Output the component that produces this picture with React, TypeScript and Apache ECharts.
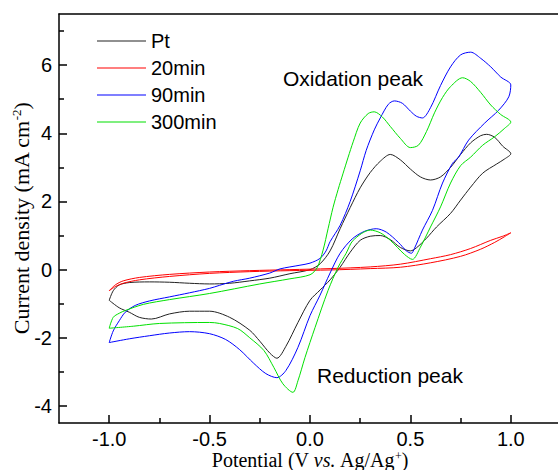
import React, { useEffect, useRef } from "react";
import * as echarts from "echarts";

// ---- data ----
const seriesNames = ["Pt", "20min", "90min", "300min"];

// Potential (V) , current density (mA cm-2) pairs, closed CV loops
const ptLoop: [number, number][] = [
  [-1.0, -0.9], [-0.98, -0.62], [-0.95, -0.45], [-0.9, -0.38], [-0.8, -0.36], [-0.7, -0.37],
  [-0.6, -0.4], [-0.5, -0.42], [-0.4, -0.4], [-0.3, -0.33], [-0.2, -0.25], [-0.1, -0.12],
  [0.0, 0.0], [0.05, 0.17], [0.1, 0.55], [0.15, 1.2], [0.2, 1.82], [0.25, 2.4], [0.3, 2.85],
  [0.35, 3.18], [0.4, 3.38], [0.45, 3.22], [0.5, 2.95], [0.55, 2.72], [0.6, 2.63], [0.65, 2.72],
  [0.7, 3.0], [0.75, 3.38], [0.8, 3.72], [0.85, 3.93], [0.88, 3.97], [0.92, 3.88], [0.96, 3.62],
  [1.0, 3.4], [0.97, 3.25], [0.93, 3.1], [0.86, 2.83], [0.8, 2.42], [0.75, 2.04], [0.7, 1.65],
  [0.63, 1.25], [0.58, 0.92], [0.53, 0.64], [0.5, 0.55], [0.45, 0.65], [0.4, 0.88], [0.35, 1.0],
  [0.3, 0.98], [0.25, 0.86], [0.2, 0.51], [0.15, 0.07], [0.1, -0.3], [0.05, -0.6], [0.0, -0.9],
  [-0.06, -1.55], [-0.12, -2.25], [-0.165, -2.6], [-0.2, -2.45], [-0.25, -2.1], [-0.3, -1.78],
  [-0.4, -1.4], [-0.5, -1.22], [-0.6, -1.22], [-0.7, -1.3], [-0.79, -1.45], [-0.85, -1.4],
  [-0.9, -1.25], [-0.95, -1.12], [-1.0, -0.9],
];

const min20Loop: [number, number][] = [
  [-1.0, -0.62], [-0.97, -0.5], [-0.93, -0.4], [-0.85, -0.3], [-0.7, -0.2], [-0.5, -0.11],
  [-0.3, -0.06], [-0.1, -0.03], [0.1, -0.01], [0.3, 0.03], [0.45, 0.07], [0.6, 0.2],
  [0.75, 0.39], [0.85, 0.6], [0.92, 0.8], [0.97, 0.97], [1.0, 1.08], [0.96, 0.98], [0.9, 0.86],
  [0.8, 0.62], [0.7, 0.44], [0.6, 0.32], [0.45, 0.16], [0.3, 0.08], [0.1, 0.03], [-0.1, 0.0],
  [-0.3, -0.03], [-0.5, -0.07], [-0.7, -0.14], [-0.85, -0.23], [-0.93, -0.33], [-0.97, -0.45],
  [-1.0, -0.62],
];

const min90Loop: [number, number][] = [
  [-1.0, -2.14], [-0.98, -1.8], [-0.95, -1.5], [-0.92, -1.25], [-0.87, -1.05], [-0.8, -0.92],
  [-0.7, -0.8], [-0.6, -0.68], [-0.5, -0.55], [-0.45, -0.46], [-0.38, -0.34], [-0.3, -0.25],
  [-0.2, -0.1], [-0.15, 0.02], [-0.05, 0.13], [0.0, 0.19], [0.05, 0.33], [0.08, 0.55],
  [0.1, 0.82], [0.15, 1.3], [0.2, 2.0], [0.25, 2.9], [0.28, 3.5], [0.32, 4.1], [0.35, 4.45],
  [0.39, 4.85], [0.42, 4.95], [0.46, 4.88], [0.5, 4.65], [0.53, 4.5], [0.56, 4.45], [0.6, 4.75],
  [0.65, 5.4], [0.7, 5.95], [0.75, 6.3], [0.8, 6.38], [0.85, 6.2], [0.9, 5.95], [0.95, 5.65],
  [1.0, 5.42], [0.99, 5.07], [0.94, 4.68], [0.87, 4.3], [0.79, 3.8], [0.74, 3.3], [0.71, 3.12],
  [0.66, 2.54], [0.61, 1.74], [0.56, 1.16], [0.52, 0.62], [0.505, 0.48], [0.48, 0.55],
  [0.44, 0.8], [0.38, 1.1], [0.33, 1.2], [0.27, 1.12], [0.21, 0.9], [0.15, 0.48], [0.1, -0.1],
  [0.05, -0.75], [0.0, -1.35], [-0.06, -2.28], [-0.12, -2.96], [-0.165, -3.17], [-0.22, -3.05],
  [-0.28, -2.75], [-0.35, -2.35], [-0.42, -2.05], [-0.5, -1.88], [-0.6, -1.82], [-0.7, -1.86],
  [-0.8, -1.94], [-0.9, -2.03], [-1.0, -2.14],
];

const min300Loop: [number, number][] = [
  [-1.0, -1.72], [-0.98, -1.4], [-0.95, -1.28], [-0.92, -1.2], [-0.83, -1.02], [-0.7, -0.88],
  [-0.5, -0.7], [-0.25, -0.42], [-0.1, -0.27], [0.0, -0.15], [0.035, 0.05], [0.065, 0.57],
  [0.09, 1.2], [0.115, 1.83], [0.14, 2.35], [0.165, 2.83], [0.19, 3.3], [0.215, 3.75],
  [0.25, 4.3], [0.29, 4.58], [0.32, 4.63], [0.36, 4.48], [0.4, 4.2], [0.45, 3.85], [0.5, 3.58],
  [0.54, 3.65], [0.58, 4.05], [0.62, 4.6], [0.66, 5.05], [0.7, 5.37], [0.76, 5.63], [0.8, 5.52],
  [0.85, 5.2], [0.9, 4.83], [0.95, 4.55], [1.0, 4.33], [0.97, 4.15], [0.92, 3.9], [0.86, 3.65],
  [0.8, 3.3], [0.75, 3.05], [0.7, 2.54], [0.65, 1.84], [0.6, 1.25], [0.55, 0.66], [0.51, 0.3],
  [0.47, 0.45], [0.4, 0.86], [0.35, 1.08], [0.3, 1.16], [0.215, 0.86], [0.18, 0.48],
  [0.14, 0.07], [0.09, -0.61], [0.025, -1.7], [-0.025, -2.58], [-0.06, -3.26], [-0.085, -3.6],
  [-0.135, -3.35], [-0.18, -2.87], [-0.23, -2.37], [-0.3, -2.0], [-0.36, -1.73], [-0.45, -1.58],
  [-0.5, -1.55], [-0.75, -1.58], [-0.88, -1.66], [-1.0, -1.72],
];

const xMajorTicks = [-1.0, -0.5, 0.0, 0.5, 1.0];
const xMinorTicks = [-0.75, -0.25, 0.25, 0.75];
const yMajorTicks = [-4, -2, 0, 2, 4, 6];
const yMinorTicks = [-3, -1, 1, 3, 5, 7];

const annotations = ["Oxidation peak", "Reduction peak"];

// ---- styles ----
const colors = ["#222222", "#ff0000", "#0000ff", "#00e000"];
const SANS = "Liberation Sans";
const SERIF = "Liberation Serif";

export default function App() {
  const ref = useRef<HTMLDivElement>(null);

  useEffect(() => {
    document.body.style.margin = "0";
    if (!ref.current) return;
    const chart = echarts.init(ref.current, undefined, { renderer: "svg" });
    const loops = [ptLoop, min20Loop, min90Loop, min300Loop];
    const axisLine = { show: true, onZero: false, lineStyle: { color: "#000", width: 1.5 } };
    const noLine = { show: false, onZero: false };
    const tickStyle = { color: "#000", width: 1.5 };
    const X_MIN = -1.25, X_MAX = 1.25, Y_MIN = -4.5, Y_MAX = 7.5;

    chart.setOption({
      animation: false,
      backgroundColor: "#fff",
      grid: {
        left: 59, right: -3, top: 14, bottom: 47, show: false,
        containLabel: false, outerBoundsMode: "none",
      },
      legend: {
        orient: "vertical",
        left: 92,
        top: 26,
        icon: "rect",
        itemWidth: 49,
        itemHeight: 1,
        itemGap: 7,
        data: seriesNames,
        textStyle: { fontFamily: SANS, fontSize: 20, color: "#000", lineHeight: 20 },
      },
      xAxis: [
        {
          type: "value", min: X_MIN, max: X_MAX, position: "bottom",
          axisLine,
          axisTick: { show: true, inside: true, length: 8, customValues: xMajorTicks, lineStyle: tickStyle },
          axisLabel: {
            customValues: xMajorTicks,
            formatter: (v: number) => v.toFixed(1),
            color: "#000", fontSize: 20, fontFamily: SANS, margin: 6,
          },
          splitLine: { show: false },
          name: "Potential (V {i|vs.} Ag/Ag{sup|+})",
          nameLocation: "middle",
          nameGap: 27,
          nameMoveOverlap: false,
          nameTextStyle: {
            fontFamily: SERIF, fontSize: 20, color: "#000", lineHeight: 20,
            rich: {
              i: { fontFamily: SERIF, fontSize: 20, fontStyle: "italic", color: "#000", lineHeight: 20 },
              sup: { fontFamily: SERIF, fontSize: 12, verticalAlign: "top", color: "#000", lineHeight: 20 },
            },
          },
        },
        {
          type: "value", min: X_MIN, max: X_MAX, position: "bottom",
          axisLine: noLine,
          axisTick: { show: true, inside: true, length: 5, customValues: xMinorTicks, lineStyle: tickStyle },
          axisLabel: { show: false },
          splitLine: { show: false },
        },
        {
          type: "value", min: X_MIN, max: X_MAX, position: "top",
          axisLine,
          axisTick: { show: false },
          axisLabel: { show: false },
          splitLine: { show: false },
        },
      ],
      yAxis: [
        {
          type: "value", min: Y_MIN, max: Y_MAX, position: "left",
          axisLine,
          axisTick: { show: true, inside: true, length: 8, customValues: yMajorTicks, lineStyle: tickStyle },
          axisLabel: {
            customValues: yMajorTicks,
            formatter: (v: number) => String(v),
            color: "#000", fontSize: 20, fontFamily: SANS, margin: 7,
          },
          splitLine: { show: false },
          name: "Current density (mA cm{sup|-2})",
          nameLocation: "middle",
          nameGap: 27,
          nameMoveOverlap: false,
          nameTextStyle: {
            fontFamily: SERIF, fontSize: 22, color: "#000",
            rich: {
              sup: { fontFamily: SERIF, fontSize: 13, verticalAlign: "top", color: "#000" },
            },
          },
        },
        {
          type: "value", min: Y_MIN, max: Y_MAX, position: "left",
          axisLine: noLine,
          axisTick: { show: true, inside: true, length: 5, customValues: yMinorTicks, lineStyle: tickStyle },
          axisLabel: { show: false },
          splitLine: { show: false },
        },
      ],
      graphic: [
        {
          type: "text", left: 283, top: 68, silent: true,
          style: { text: annotations[0], fontFamily: SANS, fontSize: 21, fill: "#000" },
        },
        {
          type: "text", left: 317, top: 365, silent: true,
          style: { text: annotations[1], fontFamily: SANS, fontSize: 21, fill: "#000" },
        },
      ],
      series: seriesNames.map((name, i) => ({
        name,
        type: "line",
        xAxisIndex: 0,
        yAxisIndex: 0,
        data: loops[i],
        showSymbol: false,
        symbol: "none",
        smooth: 0.3,
        color: colors[i],
        lineStyle: { color: colors[i], width: 1 },
      })),
    });

    return () => chart.dispose();
  }, []);

  return <div ref={ref} style={{ width: 558, height: 470 }} />;
}
